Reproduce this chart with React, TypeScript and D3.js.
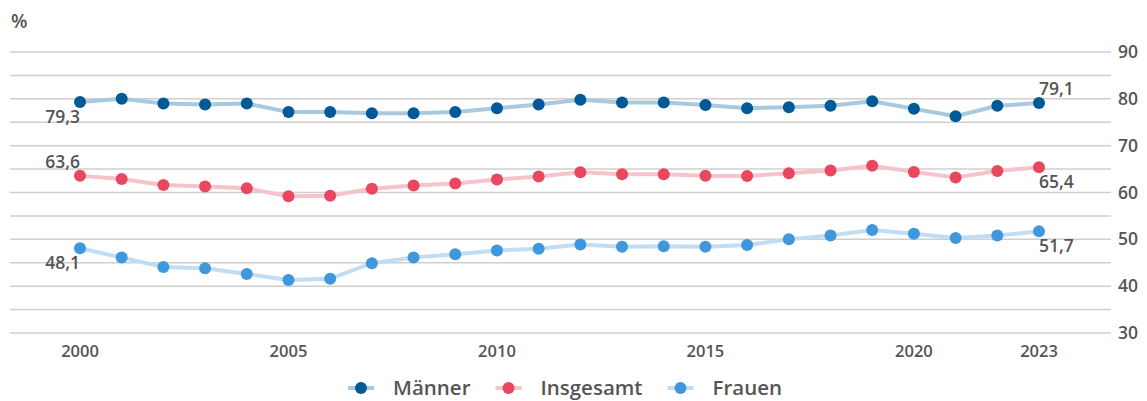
import { useEffect, useRef } from 'react';
import * as d3 from 'd3';

const years = d3.range(2000, 2024);
const maenner = [79.3, 80.0, 79.0, 78.8, 79.0, 77.2, 77.2, 76.9, 76.9, 77.2, 78.0, 78.8, 79.8, 79.2, 79.2, 78.7, 78.0, 78.2, 78.5, 79.5, 77.9, 76.3, 78.5, 79.1];
const insgesamt = [63.6, 62.9, 61.6, 61.3, 60.9, 59.2, 59.3, 60.8, 61.5, 61.9, 62.8, 63.4, 64.3, 63.9, 63.9, 63.6, 63.5, 64.1, 64.7, 65.7, 64.4, 63.2, 64.6, 65.4];
const frauen = [48.1, 46.1, 44.1, 43.8, 42.6, 41.3, 41.6, 44.9, 46.1, 46.8, 47.6, 48.0, 48.9, 48.4, 48.5, 48.4, 48.8, 50.0, 50.8, 52.0, 51.2, 50.3, 50.8, 51.7];
const xTicks = [2000, 2005, 2010, 2015, 2020, 2023];
const yTicks = [30, 40, 50, 60, 70, 80, 90];

const seriesList = [
    { name: 'Männer', values: maenner, dot: '#005a97', line: '#a9c9de', first: 'below', last: 'above' },
    { name: 'Insgesamt', values: insgesamt, dot: '#e9475f', line: '#f7c3ca', first: 'above', last: 'below' },
    { name: 'Frauen', values: frauen, dot: '#3f97dc', line: '#c2ddf3', first: 'below', last: 'below' }
];

const fmt = (v: number) => v.toFixed(1).replace('.', ',');
const FONT = '"Open Sans", "Noto Sans", sans-serif';

export default function App() {
    const svgRef = useRef<SVGSVGElement>(null);

    useEffect(() => {
        if (!svgRef.current) return;
        const root = d3.select(svgRef.current);
        root.selectAll('*').remove();

        const x = d3.scaleLinear().domain([2000, 2023]).range([80, 1039]);
        const y = d3.scaleLinear().domain([30, 90]).range([333, 52]);

        // grid lines every 5 units
        root.append('g')
            .selectAll('line')
            .data(d3.range(30, 91, 5))
            .enter()
            .append('line')
            .attr('x1', 10)
            .attr('x2', 1111)
            .attr('y1', d => y(d))
            .attr('y2', d => y(d))
            .attr('stroke', '#cfcfcf')
            .attr('stroke-width', 1.5);

        root.append('g')
            .selectAll('text')
            .data(yTicks)
            .enter()
            .append('text')
            .attr('x', 1118)
            .attr('y', d => y(d))
            .attr('dy', '0.35em')
            .style('font-family', FONT)
            .style('font-weight', 600)
            .style('font-size', '17.5px')
            .style('fill', '#555')
            .text(d => d);

        root.append('g')
            .selectAll('text')
            .data(xTicks)
            .enter()
            .append('text')
            .attr('x', d => x(d))
            .attr('y', 351)
            .attr('dy', '0.35em')
            .attr('text-anchor', 'middle')
            .style('font-family', FONT)
            .style('font-weight', 600)
            .style('font-size', '16.5px')
            .style('fill', '#555')
            .text(d => d);

        root.append('text')
            .attr('x', 11)
            .attr('y', 28)
            .style('font-family', FONT)
            .style('font-weight', 600)
            .style('font-size', '19px')
            .style('fill', '#555')
            .text('%');

        const line = d3.line<number>()
            .x((_, i) => x(years[i]))
            .y(d => y(d));

        seriesList.forEach(s => {
            const g = root.append('g');
            g.append('path')
                .datum(s.values)
                .attr('fill', 'none')
                .attr('stroke', s.line)
                .attr('stroke-width', 4)
                .attr('d', line);
            g.selectAll('circle')
                .data(s.values)
                .enter()
                .append('circle')
                .attr('cx', (_, i) => x(years[i]))
                .attr('cy', d => y(d))
                .attr('r', 6)
                .attr('fill', s.dot);

            const label = (i: number, pos: string, anchor: string) => {
                const v = s.values[i];
                g.append('text')
                    .attr('x', x(years[i]))
                    .attr('y', y(v) + (pos === 'above' ? -14 : 15))
                    .attr('dy', '0.35em')
                    .attr('text-anchor', anchor)
                    .style('font-family', FONT)
                    .style('font-weight', 600)
                    .style('font-size', '17.5px')
                    .style('fill', '#555')
                    .text(fmt(v));
            };
            label(0, s.first, 'end');
            label(s.values.length - 1, s.last, 'start');
        });

        // legend
        const legend = root.append('g').attr('transform', 'translate(0,388)');
        let lx = 348;
        seriesList.forEach(s => {
            const item = legend.append('g').attr('transform', `translate(${lx},0)`);
            item.append('line')
                .attr('x1', 0).attr('x2', 26)
                .attr('stroke', s.line).attr('stroke-width', 4);
            item.append('circle')
                .attr('cx', 13).attr('r', 6).attr('fill', s.dot);
            const t = item.append('text')
                .attr('x', 45)
                .attr('dy', '0.35em')
                .style('font-family', FONT)
                .style('font-weight', 600)
                .style('font-size', '20.5px')
                .style('fill', '#555')
                .text(s.name);
            const w = (t.node() as SVGTextElement).getComputedTextLength();
            lx += 45 + w + 25;
        });
    }, []);

    return (
        <svg
            ref={svgRef}
            width={1147}
            height={401}
            style={{ position: 'absolute', top: 0, left: 0, background: '#fff' }}
        />
    );
}
